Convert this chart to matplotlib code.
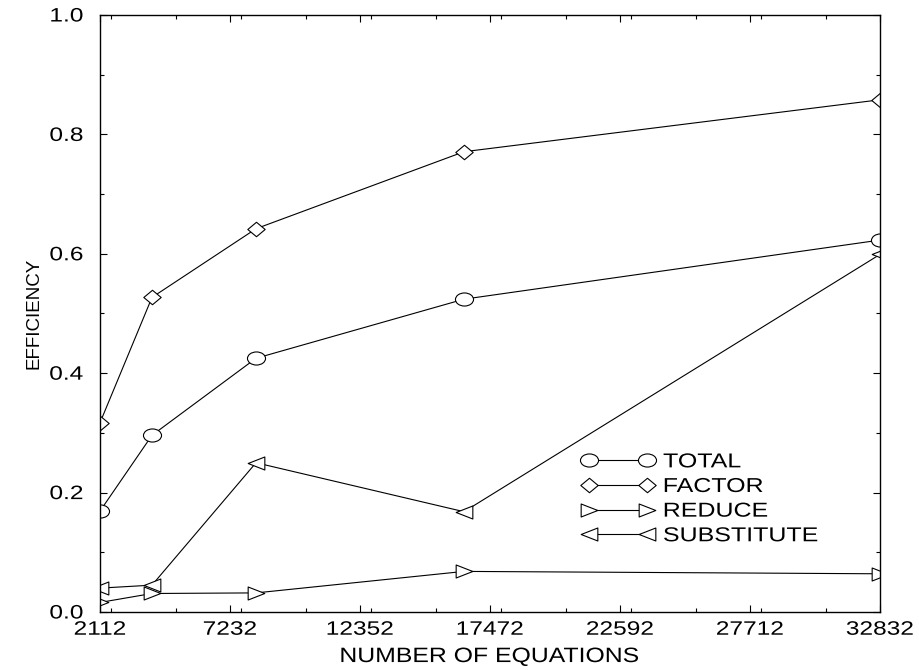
import numpy as np
import matplotlib
matplotlib.use("Agg")
import matplotlib.pyplot as plt
from matplotlib.path import Path
from matplotlib.transforms import Affine2D
from matplotlib.ticker import MultipleLocator, FixedLocator
from matplotlib.patheffects import AbstractPathEffect

# ---- data ----
equations = [2112, 4160, 8256, 16448, 32832]
total = [0.169, 0.296, 0.425, 0.524, 0.623]
factor = [0.317, 0.527, 0.642, 0.771, 0.858]
reduce_ = [0.016, 0.031, 0.032, 0.068, 0.064]
substitute = [0.040, 0.045, 0.250, 0.168, 0.599]
series_names = ["TOTAL", "FACTOR", "REDUCE", "SUBSTITUTE"]
xticks = [2112, 7232, 12352, 17472, 22592, 27712, 32832]
yticks = [0.0, 0.2, 0.4, 0.6, 0.8, 1.0]

plt.rcParams['font.family'] = ['Liberation Sans', 'DejaVu Sans']


class HStretch(AbstractPathEffect):
    """Widen text glyphs horizontally (the reference uses a wide face)."""
    def __init__(self, sx, anchor='center'):
        super().__init__()
        self.sx = sx
        self.anchor = anchor

    def draw_path(self, renderer, gc, tpath, affine, rgbFace=None):
        ext = tpath.get_extents(affine)
        if self.anchor == 'left':
            a = ext.x0
        elif self.anchor == 'right':
            a = ext.x1
        else:
            a = 0.5 * (ext.x0 + ext.x1)
        t = affine + Affine2D().translate(-a, 0).scale(self.sx, 1.0).translate(a, 0)
        renderer.draw_path(gc, tpath, t, rgbFace)


# stretched marker paths (reference markers are wider than tall)
sx = 1.38
ellipse = Path.unit_circle().transformed(Affine2D().scale(sx, 1.0))
diamond = Path([(0, 1), (1.2, 0), (0, -1), (-1.2, 0), (0, 1)],
               [Path.MOVETO, Path.LINETO, Path.LINETO, Path.LINETO, Path.CLOSEPOLY])
tri_right = Path([(-1.28, 1), (1.28, 0), (-1.28, -1), (-1.28, 1)],
                 [Path.MOVETO, Path.LINETO, Path.LINETO, Path.CLOSEPOLY])
tri_left = Path([(1.28, 1), (-1.28, 0), (1.28, -1), (1.28, 1)],
                [Path.MOVETO, Path.LINETO, Path.LINETO, Path.CLOSEPOLY])

fig = plt.figure(figsize=(9.2, 6.7), dpi=100)
ax = fig.add_axes([100/920, 1-612/670, 780/920, 597/670])

common = dict(color='black', lw=0.8, mfc='white', mec='black', mew=0.8)
ax.plot(equations, total, marker=ellipse, ms=13, label=series_names[0], **common)
ax.plot(equations, factor, marker=diamond, ms=12.5, label=series_names[1], **common)
ax.plot(equations, reduce_, marker=tri_right, ms=12, label=series_names[2], **common)
ax.plot(equations, substitute, marker=tri_left, ms=12, label=series_names[3], **common)

ax.set_xlim(xticks[0], xticks[-1])
ax.set_ylim(0, 1.0)
ax.xaxis.set_major_locator(FixedLocator(xticks))
ax.xaxis.set_minor_locator(MultipleLocator(2560))
ax.set_xticklabels([str(t) for t in xticks])
ax.yaxis.set_major_locator(FixedLocator(yticks))
ax.yaxis.set_minor_locator(MultipleLocator(0.1))
ax.set_yticklabels([f"{t:.1f}" for t in yticks])

ax.tick_params(which='both', direction='in', top=True, right=True, width=0.8)
ax.tick_params(which='major', length=5)
ax.tick_params(which='minor', length=3)
ax.tick_params(axis='x', which='major', pad=7, labelsize=14)
ax.tick_params(axis='y', which='major', pad=12, labelsize=14)
for s in ax.spines.values():
    s.set_linewidth(1.0)

for lab in ax.get_xticklabels():
    lab.set_path_effects([HStretch(1.26, 'center')])
for lab in ax.get_yticklabels():
    lab.set_path_effects([HStretch(1.26, 'right')])

xl = ax.set_xlabel("NUMBER OF EQUATIONS", fontsize=15, labelpad=6)
xl.set_path_effects([HStretch(1.19, 'center')])
ax.set_ylabel("EFFICIENCY", fontsize=13.5, labelpad=10)

leg = ax.legend(loc='center left', bbox_to_anchor=(0.6187, 0.1896), frameon=False,
                numpoints=2, handlelength=3.5, handletextpad=0.5, labelspacing=0.28,
                borderpad=0, borderaxespad=0, fontsize=14.5)
for t in leg.get_texts():
    t.set_path_effects([HStretch(1.24, 'left')])

fig.savefig("out.png", dpi=100)
